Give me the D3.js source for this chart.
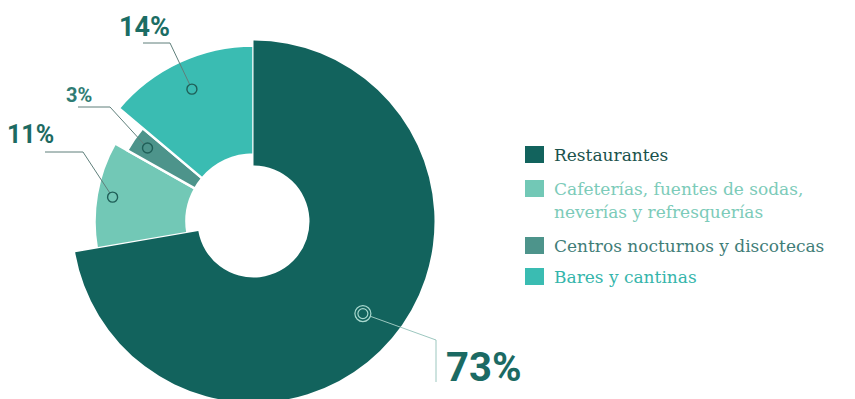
<!DOCTYPE html>
<html>
<head>
<meta charset="utf-8">
<title>Establecimientos</title>
<script src="https://d3js.org/d3.v7.min.js"></script>
<style>
body { margin: 0; padding: 0; background: #fff; }
svg { display: block; }
.legend text { font-family: "DejaVu Serif", serif; font-size: 17px; }
.pct { font-family: Roboto, "DejaVu Sans", sans-serif; font-weight: 700; }
</style>
</head>
<body>
<svg width="855" height="399"></svg>
<script>
// data
var categories = ["Restaurantes",
  "Cafeterías, fuentes de sodas,\nneverías y refresquerías",
  "Centros nocturnos y discotecas",
  "Bares y cantinas"];
var values = [73, 11, 3, 14];
var labels = ["73%", "11%", "3%", "14%"];

// styles (same order as categories)
var colors = ["#12635d", "#72c8b6", "#4d948b", "#3abcb2"];
var textColors = ["#1a524c", "#7ccbb9", "#3f7d77", "#35b5ab"];
var pctColors = ["#1b6a63", "#1d6a62", "#2f7c74", "#1b6d64"];
var outerR = [181, 159, 145, 176];
var innerR = [56, 67, 67, 67];
var markerR = [143, 143, 129, 146];
var pctSize = [40, 25, 20, 27];

var cx = 253.5, cy = 221.5;

var rows = categories.map(function(c, i) {
  return {name: c, value: values[i], label: labels[i], i: i};
});

var svg = d3.select("svg");
var g = svg.append("g").attr("transform", "translate(" + cx + "," + cy + ")");

var pie = d3.pie().sort(null).value(function(d) { return d.value; });
var arcs = pie(rows);

var arc = d3.arc()
  .innerRadius(function(d) { return innerR[d.data.i]; })
  .outerRadius(function(d) { return outerR[d.data.i]; });

var slices = g.selectAll("path.slice")
  .data(arcs)
  .enter().append("path")
  .attr("class", "slice")
  .attr("d", arc)
  .attr("fill", function(d) { return colors[d.data.i]; })
  .attr("stroke", "#fff")
  .attr("stroke-width", function(d) { return d.data.i == 0 ? 0 : 2.5; });
slices.filter(function(d) { return d.data.i == 0; }).raise();

// marker position on each slice
function markerPos(d) {
  var a = (d.startAngle + d.endAngle) / 2, r = markerR[d.data.i];
  return [Math.sin(a) * r, -Math.cos(a) * r];
}

// label elbows, in chart coords (relative to center)
var elbows = [[436 - cx, 340 - cy], [83 - cx, 152 - cy], [110 - cx, 107 - cy], [170 - cx, 43 - cy]];
var tails = [[436 - cx, 382 - cy], [45 - cx, 152 - cy], [78 - cx, 107 - cy], [143 - cx, 43 - cy]];
var textPos = [[446 - cx, 381 - cy], [7 - cx, 143 - cy], [66 - cx, 102 - cy], [119 - cx, 36 - cy]];

arcs.forEach(function(d) {
  var i = d.data.i;
  var m = markerPos(d);
  var e = elbows[i];
  var ringR = i == 0 ? 8 : 5;
  var dx = e[0] - m[0], dy = e[1] - m[1], len = Math.sqrt(dx * dx + dy * dy);
  var start = [m[0] + dx / len * ringR, m[1] + dy / len * ringR];

  g.append("path")
    .attr("d", d3.line()([start, e, tails[i]]))
    .attr("fill", "none")
    .attr("stroke", i == 0 ? "#9cc7bf" : "#5f7f7b")
    .attr("stroke-width", 1);

  if (i == 0) {
    g.append("circle").attr("cx", m[0]).attr("cy", m[1]).attr("r", 8)
      .attr("fill", "none").attr("stroke", "#a8d8ce").attr("stroke-width", 1.2);
    g.append("circle").attr("cx", m[0]).attr("cy", m[1]).attr("r", 5)
      .attr("fill", "none").attr("stroke", "#a8d8ce").attr("stroke-width", 1.2);
  } else {
    g.append("circle").attr("cx", m[0]).attr("cy", m[1]).attr("r", 5)
      .attr("fill", "none").attr("stroke", "#1f5f58").attr("stroke-width", 1.4);
  }

  g.append("text")
    .attr("class", "pct")
    .attr("x", textPos[i][0]).attr("y", textPos[i][1])
    .attr("fill", pctColors[i])
    .style("font-size", pctSize[i] + "px")
    .text(d.data.label);
});

// legend
var legendTop = [146, 180, 237, 268];
var legend = svg.append("g").attr("class", "legend");
rows.forEach(function(d, i) {
  legend.append("rect")
    .attr("x", 525).attr("y", legendTop[i])
    .attr("width", 19).attr("height", 17)
    .attr("fill", colors[i]);
  var t = legend.append("text").attr("fill", textColors[i]);
  d.name.split("\n").forEach(function(line, k) {
    t.append("tspan").attr("x", 554).attr("y", legendTop[i] + 15 + k * 23).text(line);
  });
});
</script>
</body>
</html>
